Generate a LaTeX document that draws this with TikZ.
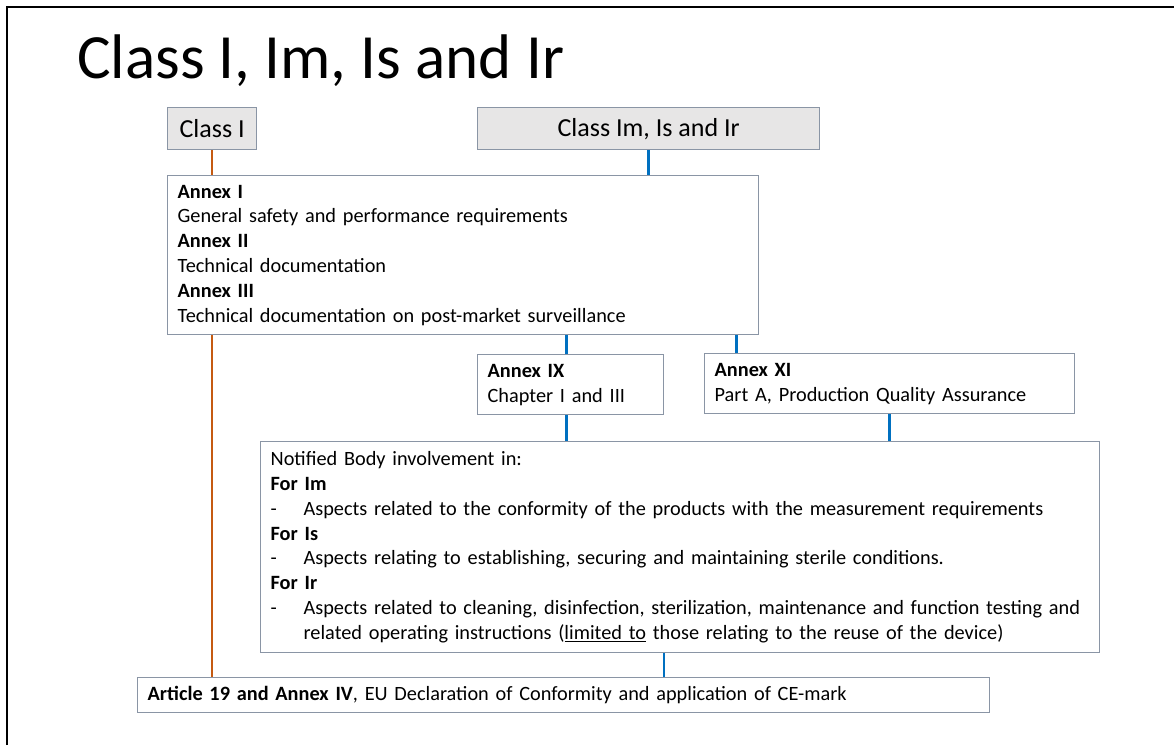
\documentclass[tikz,border=0pt]{standalone}
\usepackage{fontspec}
\setmainfont{Carlito}
\usetikzlibrary{positioning}

\definecolor{boxgray}{HTML}{8A95A5}
\definecolor{headfill}{HTML}{E7E6E6}
\definecolor{lineorange}{HTML}{C55A11}
\definecolor{lineblue}{HTML}{0070C0}

\newcommand{\dashitem}{\makebox[33pt][l]{-}}

\tikzset{
  headbox/.style={draw=boxgray, fill=headfill, line width=1.3pt, inner sep=0pt,
    font=\fontsize{26}{31}\selectfont, anchor=north west},
  annexbox/.style={draw=boxgray, fill=white, line width=1.3pt, inner xsep=10pt, inner ysep=0pt,
    font=\fontsize{20.3}{24.8}\selectfont, align=left, anchor=north west},
  orangelink/.style={lineorange, line width=2.6pt},
  bluelink/.style={lineblue, line width=2.6pt},
}

\begin{document}
\begin{tikzpicture}[x=1pt,y=-1pt]
  \useasboundingbox (0,0) rectangle (1174,745);
  % slide frame
  \draw[line width=1.4pt] (7,745) -- (7,7) -- (1174,7);
  \node[anchor=base west, inner sep=0pt, font=\fontsize{63}{70}\selectfont] (title) at (77,78) {Class I, Im, Is and Ir};

  % class boxes
  \node[headbox, minimum width=89pt, minimum height=42pt] (classI) at (167,107) {Class I};
  \node[headbox, minimum width=342pt, minimum height=42pt] (classIm) at (477,107) {Class Im, Is and Ir};

  % annex boxes
  \node[annexbox, text width=571pt, minimum height=159pt] (annexI) at (167,175)
    {\textbf{Annex I}\\
     General safety and performance requirements\\
     \textbf{Annex II}\\
     Technical documentation\\
     \textbf{Annex III}\\
     Technical documentation on post-market surveillance};
  \node[annexbox, text width=166pt, minimum height=60pt] (annexIX) at (477,354)
    {\textbf{Annex IX}\\ Chapter I and III};
  \node[annexbox, text width=350pt, minimum height=60pt] (annexXI) at (704,353)
    {\textbf{Annex XI}\\ Part A, Production Quality Assurance};
  \node[annexbox, text width=819pt, minimum height=211pt] (notified) at (260,441)
    {Notified Body involvement in:\\
     \textbf{For Im}\\
     \dashitem Aspects related to the conformity of the products with the measurement requirements\\
     \textbf{For Is}\\
     \dashitem Aspects relating to establishing, securing and maintaining sterile conditions.\\
     \textbf{For Ir}\\
     \dashitem Aspects related to cleaning, disinfection, sterilization, maintenance and function testing and\\
     \hspace*{33pt}related operating instructions (\underline{limited to} those relating to the reuse of the device)};
  \node[annexbox, text width=832pt, minimum height=35pt] (article) at (137,677)
    {\textbf{Article 19 and Annex IV}, EU Declaration of Conformity and application of CE-mark};

  % class I route
  \draw[orangelink] (classI.south) -- (classI.south |- annexI.north);
  \draw[orangelink] (classI.south |- annexI.south) -- (classI.south |- article.north);
  % class Im, Is, Ir route
  \draw[bluelink] (classIm.south) -- (classIm.south |- annexI.north);
  \draw[bluelink] ([xshift=-4pt]annexIX.north) -- ([xshift=-4pt]annexIX.north |- annexI.south);
  \draw[bluelink] ([xshift=-153pt]annexXI.north) -- ([xshift=-153pt]annexXI.north |- annexI.south);
  \draw[bluelink] ([xshift=-4pt]annexIX.south) -- ([xshift=-4pt]annexIX.south |- notified.north);
  \draw[bluelink] (annexXI.south) -- (annexXI.south |- notified.north);
  \draw[bluelink] ([xshift=-16pt]notified.south) -- ([xshift=-16pt]notified.south |- article.north);
\end{tikzpicture}
\end{document}
